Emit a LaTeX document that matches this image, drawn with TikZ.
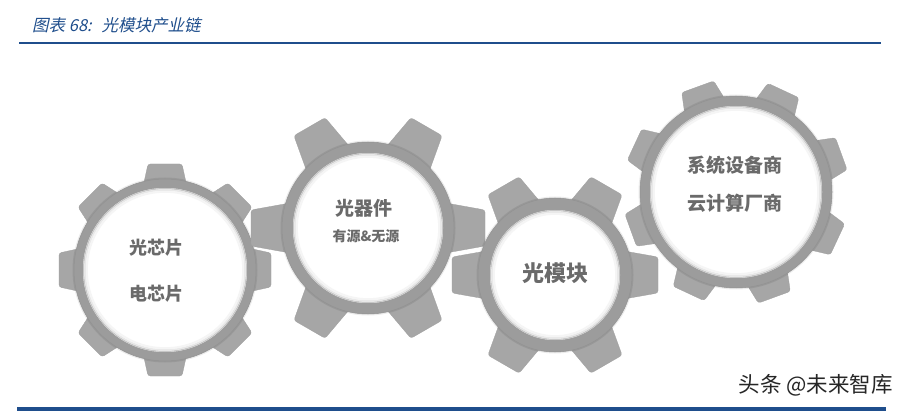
\documentclass[tikz,border=0pt]{standalone}
\usepackage{fontspec}
\newfontfamily\cjk{Noto Sans CJK SC}
\newfontfamily\cjkit{Noto Sans CJK SC}[FakeSlant=0.22]
\definecolor{toothcol}{HTML}{A6A6A6}
\definecolor{ringcol}{HTML}{9C9C9C}
\definecolor{ringedge}{HTML}{929292}
\definecolor{txtcol}{HTML}{6A6A6A}
\definecolor{titleblue}{HTML}{1F4E8C}
\tikzset{
  tooth/.style={fill=toothcol, draw=toothcol!96!black, line width=0.3pt, rounded corners=2.5pt},
  gtext/.style={font=\cjk\bfseries, text=txtcol, inner sep=0pt},
}
% #1 cx, #2 cy, #3 teeth, #4 start angle, #5 tip radius, #6 ring radius, #7 white radius, #8 base half width, #9 tip half width
\newcommand{\drawgear}[9]{%
  \begin{scope}[shift={(#1,#2)}]
    \foreach \k in {1,...,#3}{%
      \pgfmathsetmacro\ang{#4+\k*360/#3}
      \draw[tooth, rotate=\ang] (#6-8,-#8) -- (#5,-#9) -- (#5,#9) -- (#6-8,#8) -- cycle;
    }
    \fill[black, opacity=0.08] (0,0) circle (#6+1.5);
    \fill[ringcol, draw=ringedge, line width=0.5pt] (0,0) circle (#6);
    \fill[white] (0,0) circle (#7);
    \draw[black!22, line width=1.2pt] (0,0) circle (#7-0.6);
    \draw[black!9, line width=1.6pt] (0,0) circle (#7-2);
    \draw[black!4, line width=2pt] (0,0) circle (#7-3.8);
  \end{scope}
}
\begin{document}
\begin{tikzpicture}[x=1pt,y=-1pt]
\useasboundingbox (0,0) rectangle (901,411);
\fill[white] (0,0) rectangle (901,411);

% title
\node[anchor=west, font=\cjkit\fontsize{16.5}{18}\selectfont, text=titleblue, inner sep=0pt] (title) at (32,25) {图表 68:\hspace{0.6em}光模块产业链};
\coordinate (tl) at (19,43.5);
\coordinate (tr) at (881,43.5);
\draw[titleblue, line width=2pt] (tl) -- (tr);

% gears
\drawgear{165}{270}{8}{0}{106}{91}{82}{22}{17}
\drawgear{368}{228}{6}{0}{117}{86}{75}{25}{18}
\drawgear{555}{275}{6}{0}{103}{77}{65}{24}{18}
\drawgear{736}{192}{8}{20}{112}{96}{86}{22}{17}

% labels
\node[gtext, font=\cjk\bfseries\fontsize{18}{20}\selectfont] (g1a) at (156,248) {光芯片};
\node[gtext, font=\cjk\bfseries\fontsize{18}{20}\selectfont] (g1b) at (156,294) {电芯片};
\node[gtext, font=\cjk\bfseries\fontsize{19}{21}\selectfont] (g2a) at (364,208) {光器件};
\node[gtext, font=\cjk\bfseries\fontsize{14}{16}\selectfont] (g2b) at (366,236) {有源\&无源};
\node[gtext, font=\cjk\bfseries\fontsize{22}{24}\selectfont] (g3a) at (555,273) {光模块};
\node[gtext, font=\cjk\bfseries\fontsize{19}{21}\selectfont] (g4a) at (735,165) {系统设备商};
\node[gtext, font=\cjk\bfseries\fontsize{19}{21}\selectfont] (g4b) at (735,203) {云计算厂商};

% bottom bar
\coordinate (bl) at (17,409);
\coordinate (br) at (886,409);
\draw[titleblue, line width=4pt] (bl) -- (br);

% watermark
\node[anchor=east, font=\cjk\fontsize{21.5}{23}\selectfont, text=black!85, inner sep=0pt] (wm) at (893,385) {头条 @未来智库};
\end{tikzpicture}
\end{document}
